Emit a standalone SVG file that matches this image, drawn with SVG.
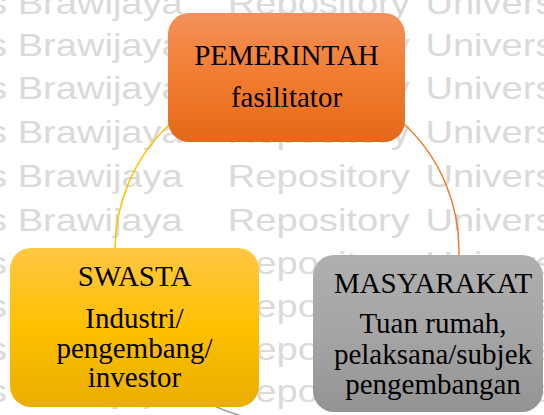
<svg xmlns="http://www.w3.org/2000/svg" width="544" height="415" viewBox="0 0 544 415">
  <style>
    .wm { font-family: "Liberation Sans", Arial, sans-serif; font-size: 32px; fill: #dadada; }
    .title { font-family: "Liberation Serif", "Times New Roman", serif; font-size: 29px; fill: #000; text-anchor: middle; }
    .body { font-family: "Liberation Serif", "Times New Roman", serif; font-size: 29px; fill: #000; text-anchor: middle; }
    .link { fill: none; stroke-width: 1.5; }
  </style>
  <defs>
    <linearGradient id="gOrange" x1="0" y1="0" x2="0" y2="1">
      <stop offset="0" stop-color="#f1915a"/>
      <stop offset="0.5" stop-color="#f27c2e"/>
      <stop offset="1" stop-color="#e4691a"/>
    </linearGradient>
    <linearGradient id="gGold" x1="0" y1="0" x2="0" y2="1">
      <stop offset="0" stop-color="#ffc745"/>
      <stop offset="0.5" stop-color="#ffc000"/>
      <stop offset="1" stop-color="#e9ae00"/>
    </linearGradient>
    <linearGradient id="gGray" x1="0" y1="0" x2="0" y2="1">
      <stop offset="0" stop-color="#afafaf"/>
      <stop offset="0.5" stop-color="#a5a5a5"/>
      <stop offset="1" stop-color="#939393"/>
    </linearGradient>
  </defs>

  <rect width="544" height="415" fill="#ffffff"/>

  <!-- background watermark rows -->
  <g id="watermark" class="wm" transform="scale(1.19,1)">
    <text x="-10" y="14">s Brawijaya</text><text x="191.5" y="14">Repository</text><text x="357.5" y="14">Universitas</text>
    <text x="-10" y="56">s Brawijaya</text><text x="191.5" y="56">Repository</text><text x="357.5" y="56">Universitas</text>
    <text x="-10" y="99">s Brawijaya</text><text x="191.5" y="99">Repository</text><text x="357.5" y="99">Universitas</text>
    <text x="-10" y="143">s Brawijaya</text><text x="191.5" y="143">Repository</text><text x="357.5" y="143">Universitas</text>
    <text x="-10" y="187">s Brawijaya</text><text x="191.5" y="187">Repository</text><text x="357.5" y="187">Universitas</text>
    <text x="-10" y="231">s Brawijaya</text><text x="191.5" y="231">Repository</text><text x="357.5" y="231">Universitas</text>
    <text x="-10" y="274">s Brawijaya</text><text x="191.5" y="274">Repository</text><text x="357.5" y="274">Universitas</text>
    <text x="-10" y="317">s Brawijaya</text><text x="191.5" y="317">Repository</text><text x="357.5" y="317">Universitas</text>
    <text x="-10" y="360">s Brawijaya</text><text x="191.5" y="360">Repository</text><text x="357.5" y="360">Universitas</text>
    <text x="-10" y="402">s Brawijaya</text><text x="191.5" y="402">Repository</text><text x="357.5" y="402">Universitas</text>
  </g>

  <!-- cycle connectors: arcs of one circle, centre (287,250), r 172 -->
  <g id="connectors">
    <path class="link" stroke="#ffc000" d="M 115.3 260 A 172 172 0 0 1 174.4 120"/>
    <path class="link" stroke="#ed7d31" d="M 399.6 120 A 172 172 0 0 1 458.3 265"/>
    <path class="link" stroke="#9a9a9a" d="M 320 418.8 A 172 172 0 0 1 200 398.4"/>
  </g>

  <g id="pemerintah">
    <rect x="168" y="13" width="237" height="129" rx="21" fill="url(#gOrange)"/>
    <text class="title" x="286.5" y="65">PEMERINTAH</text>
    <text class="body" x="286.5" y="107">fasilitator</text>
  </g>

  <g id="swasta">
    <rect x="10" y="248" width="249" height="159" rx="21" fill="url(#gGold)"/>
    <text class="title" x="134.5" y="286">SWASTA</text>
    <text class="body" x="134.5" y="328">Industri/</text>
    <text class="body" x="134.5" y="358">pengembang/</text>
    <text class="body" x="134.5" y="387">investor</text>
  </g>

  <g id="masyarakat">
    <rect x="313" y="255" width="230" height="157" rx="21" fill="url(#gGray)"/>
    <text class="title" x="433" y="293">MASYARAKAT</text>
    <text class="body" x="433" y="333">Tuan rumah,</text>
    <text class="body" x="433" y="364">pelaksana/subjek</text>
    <text class="body" x="433" y="394">pengembangan</text>
  </g>
</svg>
